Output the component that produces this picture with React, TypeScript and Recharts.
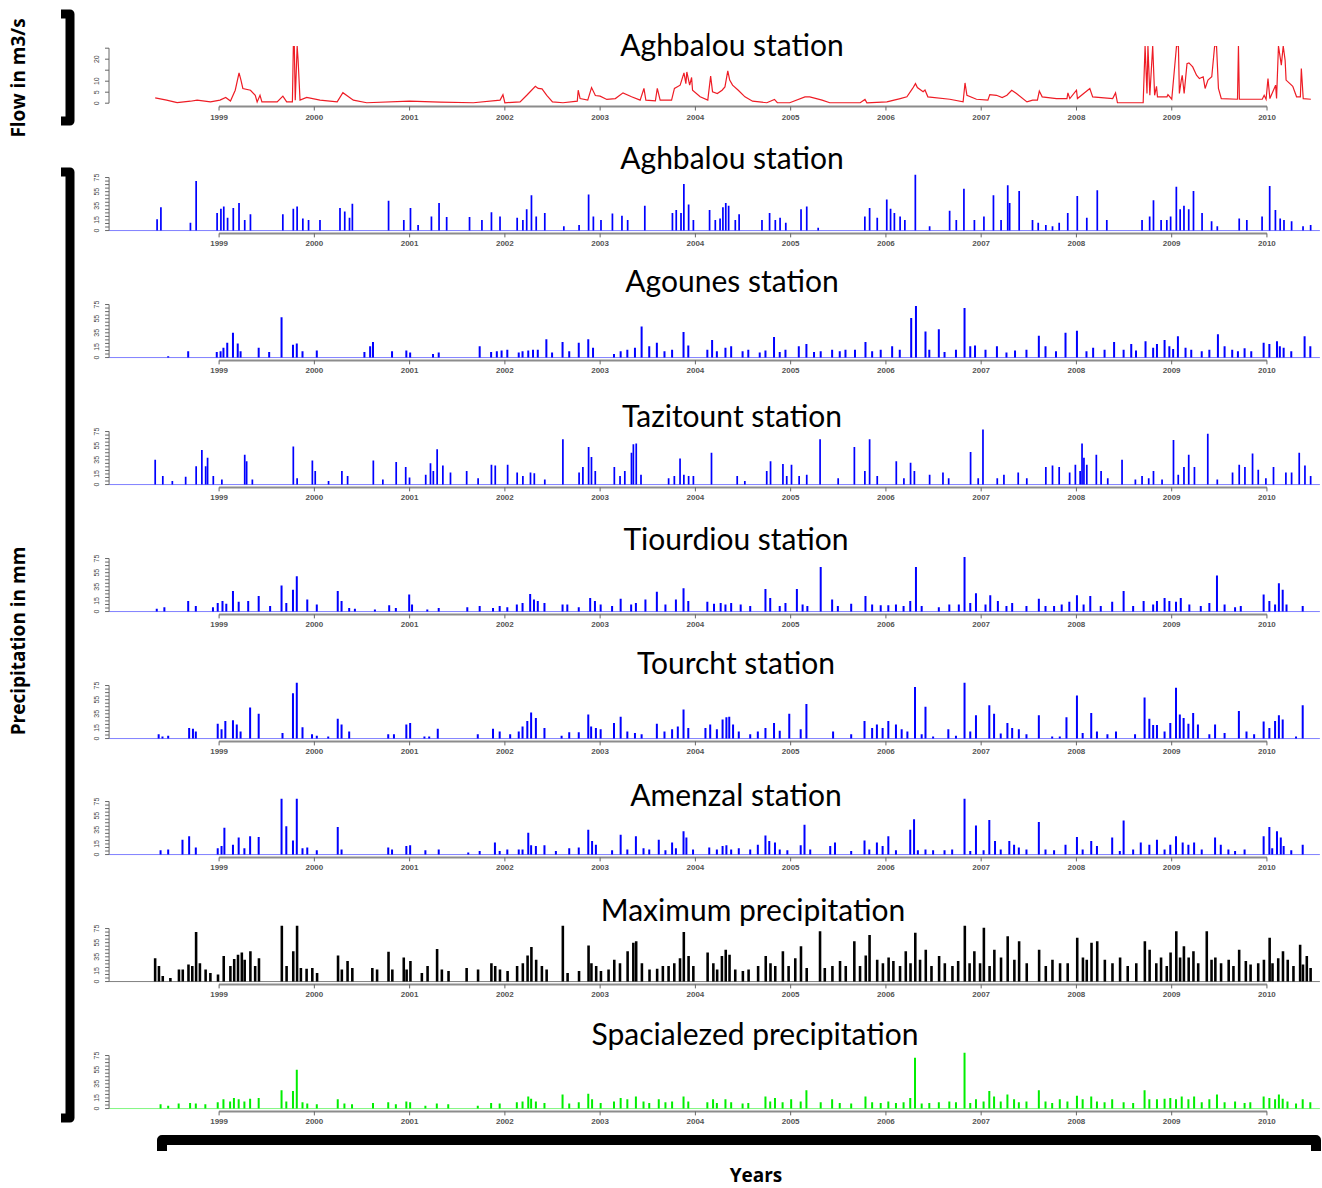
import React from 'react';
import { ComposedChart, LineChart, Line, Bar, XAxis, YAxis, ReferenceLine } from 'recharts';

// shared axis values
const years = [1999, 2000, 2001, 2002, 2003, 2004, 2005, 2006, 2007, 2008, 2009, 2010];
const rainTicks = [0, 5, 10, 15, 20, 25, 30, 35, 40, 45, 50, 55, 60, 65, 70, 75];
const rainLabels = [0, 15, 35, 55, 75];
const flowTicks = [0, 5, 10, 15, 20, 25];
const flowLabels = [0, 5, 10, 20];

// flow at Aghbalou, m3/s  [decimal year, value]
const flowAghbalou: [number, number][] = [
  [1998.33, 2.4], [1998.45, 1.4], [1998.56, 0.3], [1998.70, 0.9], [1998.77, 1.4], [1998.91, 0.6],
  [1999.01, 1.4], [1999.07, 2.6], [1999.12, 1.0], [1999.17, 5.9], [1999.21, 13.8], [1999.23, 10.5],
  [1999.25, 6.7], [1999.33, 5.9], [1999.38, 3.6], [1999.40, 0.6], [1999.43, 3.6], [1999.45, 0.6],
  [1999.61, 0.6], [1999.67, 3.2], [1999.71, 0.6], [1999.77, 0.6], [1999.78, 26], [1999.79, 26],
  [1999.80, 1.4], [1999.82, 26], [1999.83, 19.5], [1999.85, 1.4], [1999.92, 2.6], [2000.06, 1.4],
  [2000.24, 0.6], [2000.30, 4.8], [2000.41, 1.4], [2000.55, 0.2], [2001.00, 0.9], [2001.32, 0.5],
  [2001.67, 0.2], [2001.95, 1.4], [2001.98, 3.9], [2002.00, 0.2], [2002.16, 0.6], [2002.23, 3.6],
  [2002.32, 7.7], [2002.35, 6.7], [2002.39, 6.5], [2002.44, 3.6], [2002.50, 0.6], [2002.61, 0.2],
  [2002.76, 0.9], [2002.77, 5.9], [2002.79, 2.1], [2002.87, 1.4], [2002.91, 7.1], [2002.95, 3.5],
  [2003.00, 3.2], [2003.07, 1.7], [2003.16, 2.1], [2003.24, 4.7], [2003.33, 2.9], [2003.42, 1.4],
  [2003.46, 6.7], [2003.48, 1.4], [2003.58, 1.1], [2003.60, 6.7], [2003.63, 1.4], [2003.75, 1.4],
  [2003.78, 6.7], [2003.84, 8.2], [2003.88, 13.8], [2003.90, 8.9], [2003.91, 14.2], [2003.94, 8.2],
  [2003.96, 11.7], [2003.97, 5.9], [2004.05, 2.9], [2004.13, 1.4], [2004.16, 12.3], [2004.18, 5.2],
  [2004.23, 4.4], [2004.28, 5.9], [2004.31, 7.4], [2004.34, 14.7], [2004.36, 10.5], [2004.39, 8.2],
  [2004.45, 5.9], [2004.52, 2.9], [2004.60, 0.9], [2004.75, 0.2], [2004.83, 1.7], [2004.86, 0.2],
  [2004.99, 0.2], [2005.15, 2.9], [2005.20, 2.9], [2005.33, 1.4], [2005.41, 0.2], [2005.73, 0.2],
  [2005.78, 1.7], [2005.80, 0.2], [2006.01, 0.6], [2006.15, 2.1], [2006.22, 2.9], [2006.28, 6.7],
  [2006.31, 8.9], [2006.33, 7.1], [2006.39, 5.2], [2006.41, 6.0], [2006.44, 2.9], [2006.67, 1.8],
  [2006.81, 0.6], [2006.83, 9.2], [2006.85, 3.6], [2006.95, 1.8], [2007.07, 1.4], [2007.09, 3.9],
  [2007.16, 3.6], [2007.22, 2.6], [2007.27, 3.6], [2007.32, 5.9], [2007.37, 4.4], [2007.48, 0.6],
  [2007.54, 1.4], [2007.59, 1.4], [2007.61, 5.5], [2007.64, 2.9], [2007.79, 2.1], [2007.90, 2.1],
  [2007.91, 4.7], [2007.93, 2.1], [2008.00, 5.9], [2008.01, 2.1], [2008.14, 6.7], [2008.17, 2.9],
  [2008.38, 2.1], [2008.41, 4.7], [2008.43, 0.2], [2008.70, 0.2], [2008.72, 26], [2008.74, 4.4],
  [2008.75, 26], [2008.77, 3.6], [2008.80, 26], [2008.82, 3.6], [2008.84, 7.7], [2008.85, 2.9],
  [2008.95, 2.9], [2008.96, 3.9], [2009.00, 1.8], [2009.05, 26], [2009.07, 26], [2009.08, 4.4],
  [2009.10, 10.5], [2009.11, 12.7], [2009.13, 4.4], [2009.16, 18], [2009.18, 18.3], [2009.22, 16.5],
  [2009.26, 12.7], [2009.29, 11.2], [2009.33, 12], [2009.35, 6.7], [2009.38, 10.5], [2009.42, 12],
  [2009.45, 26], [2009.47, 26], [2009.49, 6.7], [2009.52, 2.1], [2009.69, 1.8], [2009.70, 26],
  [2009.71, 1.8], [2009.95, 1.8], [2009.97, 3.6], [2009.99, 1.8], [2010.01, 11.2], [2010.03, 2.1],
  [2010.09, 8.2], [2010.10, 2.1], [2010.12, 26], [2010.15, 17.3], [2010.17, 26], [2010.19, 19.5],
  [2010.20, 10.5], [2010.24, 8.9], [2010.27, 7.7], [2010.31, 2.9], [2010.35, 2.9], [2010.36, 15.8],
  [2010.38, 2.1], [2010.46, 1.8],
];

// daily rain peaks, mm  [decimal year, value]
const rainAghbalou: [number, number][] = [
  [1998.35, 16], [1998.39, 33], [1998.70, 11], [1998.76, 70], [1998.98, 25], [1999.02, 31], [1999.05, 34],
  [1999.09, 18], [1999.15, 32], [1999.21, 39], [1999.27, 15], [1999.33, 23], [1999.67, 23], [1999.78, 31],
  [1999.82, 34], [1999.88, 17], [1999.94, 15], [2000.06, 15], [2000.27, 32], [2000.32, 27], [2000.37, 18],
  [2000.40, 38], [2000.78, 42], [2000.94, 15], [2001.01, 32], [2001.09, 8], [2001.23, 20], [2001.31, 39],
  [2001.39, 19], [2001.63, 19], [2001.76, 15], [2001.86, 26], [2001.95, 20], [2002.13, 18], [2002.19, 15],
  [2002.23, 30], [2002.28, 50], [2002.33, 20], [2002.42, 25], [2002.62, 6], [2002.78, 8], [2002.88, 51],
  [2002.93, 20], [2003.01, 15], [2003.13, 24], [2003.23, 21], [2003.29, 15], [2003.47, 35], [2003.76, 25],
  [2003.80, 29], [2003.85, 25], [2003.88, 66], [2003.93, 37], [2003.98, 15], [2004.15, 29], [2004.21, 15],
  [2004.26, 17], [2004.29, 33], [2004.32, 39], [2004.35, 35], [2004.42, 15], [2004.46, 23], [2004.70, 15],
  [2004.78, 25], [2004.84, 15], [2004.89, 18], [2004.95, 11], [2005.11, 30], [2005.17, 34], [2005.29, 4],
  [2005.78, 20], [2005.83, 32], [2005.91, 18], [2006.01, 44], [2006.05, 31], [2006.09, 25], [2006.15, 20],
  [2006.20, 15], [2006.31, 79], [2006.46, 6], [2006.67, 28], [2006.74, 15], [2006.82, 59], [2006.93, 15],
  [2007.03, 20], [2007.13, 50], [2007.21, 15], [2007.28, 64], [2007.30, 39], [2007.40, 56], [2007.54, 15],
  [2007.60, 11], [2007.68, 8], [2007.75, 6], [2007.82, 11], [2007.91, 25], [2008.01, 49], [2008.11, 18],
  [2008.22, 57], [2008.32, 15], [2008.69, 15], [2008.77, 20], [2008.81, 43], [2008.89, 15], [2008.95, 15],
  [2008.99, 20], [2009.05, 62], [2009.09, 30], [2009.13, 35], [2009.18, 30], [2009.23, 56], [2009.32, 25],
  [2009.42, 13], [2009.48, 6], [2009.71, 17], [2009.79, 15], [2009.95, 20], [2010.03, 63], [2010.09, 29],
  [2010.14, 17], [2010.18, 15], [2010.26, 13], [2010.38, 6], [2010.46, 8],
];

const rainAgounes: [number, number][] = [
  [1998.47, 2], [1998.68, 9], [1998.98, 8], [1999.02, 9], [1999.05, 14], [1999.09, 21], [1999.15, 35],
  [1999.20, 20], [1999.23, 9], [1999.42, 14], [1999.53, 8], [1999.66, 57], [1999.78, 18], [1999.82, 20],
  [1999.88, 9], [2000.03, 10], [2000.53, 8], [2000.59, 16], [2000.62, 22], [2000.82, 9], [2000.97, 10],
  [2001.01, 7], [2001.25, 5], [2001.31, 7], [2001.74, 16], [2001.86, 8], [2001.92, 9], [2001.97, 10],
  [2002.03, 11], [2002.15, 7], [2002.19, 9], [2002.25, 10], [2002.30, 11], [2002.35, 11], [2002.44, 26],
  [2002.50, 7], [2002.61, 22], [2002.68, 9], [2002.78, 21], [2002.88, 26], [2002.93, 14], [2003.15, 5],
  [2003.22, 9], [2003.29, 11], [2003.37, 14], [2003.44, 44], [2003.52, 16], [2003.60, 21], [2003.68, 9],
  [2003.76, 11], [2003.88, 36], [2003.93, 17], [2004.13, 11], [2004.18, 25], [2004.23, 9], [2004.32, 14],
  [2004.38, 16], [2004.50, 9], [2004.56, 11], [2004.68, 7], [2004.74, 10], [2004.83, 29], [2004.89, 8],
  [2004.95, 11], [2005.09, 16], [2005.17, 19], [2005.25, 8], [2005.32, 9], [2005.44, 11], [2005.52, 9],
  [2005.58, 11], [2005.68, 11], [2005.79, 22], [2005.86, 9], [2005.95, 11], [2006.07, 16], [2006.15, 11],
  [2006.27, 56], [2006.32, 73], [2006.42, 37], [2006.46, 11], [2006.56, 40], [2006.62, 8], [2006.74, 11],
  [2006.83, 70], [2006.89, 16], [2006.94, 17], [2007.05, 11], [2007.17, 16], [2007.27, 7], [2007.36, 10],
  [2007.48, 11], [2007.61, 31], [2007.68, 16], [2007.79, 9], [2007.89, 35], [2008.01, 38], [2008.11, 9],
  [2008.18, 14], [2008.30, 11], [2008.40, 22], [2008.50, 11], [2008.58, 19], [2008.63, 10], [2008.73, 23],
  [2008.81, 14], [2008.85, 19], [2008.93, 25], [2008.98, 16], [2009.02, 12], [2009.07, 30], [2009.15, 14],
  [2009.21, 11], [2009.32, 9], [2009.40, 11], [2009.49, 33], [2009.56, 16], [2009.64, 11], [2009.70, 9],
  [2009.77, 13], [2009.84, 9], [2009.97, 21], [2010.03, 19], [2010.11, 23], [2010.14, 16], [2010.18, 14],
  [2010.26, 9], [2010.40, 30], [2010.46, 16],
];

const rainTazitount: [number, number][] = [
  [1998.33, 35], [1998.41, 12], [1998.51, 5], [1998.65, 11], [1998.76, 26], [1998.82, 49], [1998.86, 26],
  [1998.88, 38], [1998.94, 12], [1999.03, 7], [1999.27, 42], [1999.29, 33], [1999.35, 7], [1999.78, 54],
  [1999.82, 9], [1999.98, 34], [2000.01, 19], [2000.15, 5], [2000.29, 19], [2000.35, 12], [2000.62, 34],
  [2000.72, 7], [2000.86, 32], [2000.96, 25], [2001.00, 10], [2001.17, 14], [2001.22, 30], [2001.25, 19],
  [2001.29, 50], [2001.35, 27], [2001.43, 17], [2001.60, 19], [2001.72, 9], [2001.86, 28], [2001.90, 27],
  [2002.03, 28], [2002.13, 17], [2002.19, 12], [2002.27, 17], [2002.31, 16], [2002.42, 7], [2002.61, 64],
  [2002.78, 17], [2002.82, 25], [2002.88, 53], [2002.91, 39], [2002.95, 19], [2003.15, 25], [2003.21, 12],
  [2003.26, 19], [2003.33, 45], [2003.35, 57], [2003.38, 58], [2003.43, 14], [2003.72, 9], [2003.78, 12],
  [2003.84, 37], [2003.88, 14], [2003.93, 12], [2003.98, 12], [2004.17, 45], [2004.44, 12], [2004.52, 5],
  [2004.75, 19], [2004.79, 33], [2004.92, 29], [2004.96, 12], [2005.01, 28], [2005.09, 12], [2005.17, 14],
  [2005.31, 64], [2005.50, 9], [2005.67, 53], [2005.78, 19], [2005.83, 64], [2005.91, 12], [2006.11, 33],
  [2006.19, 9], [2006.26, 31], [2006.30, 19], [2006.46, 14], [2006.60, 17], [2006.66, 9], [2006.89, 46],
  [2006.97, 9], [2007.02, 78], [2007.17, 9], [2007.24, 14], [2007.39, 17], [2007.48, 9], [2007.68, 25],
  [2007.75, 27], [2007.82, 25], [2007.93, 17], [2007.99, 28], [2008.04, 19], [2008.06, 58], [2008.08, 38],
  [2008.11, 28], [2008.21, 42], [2008.26, 19], [2008.33, 9], [2008.48, 35], [2008.62, 7], [2008.69, 12],
  [2008.76, 9], [2008.81, 19], [2008.90, 7], [2009.02, 63], [2009.07, 14], [2009.13, 25], [2009.18, 42],
  [2009.24, 25], [2009.38, 72], [2009.48, 7], [2009.64, 17], [2009.71, 28], [2009.77, 25], [2009.85, 44],
  [2009.91, 21], [2009.99, 9], [2010.07, 25], [2010.20, 17], [2010.26, 17], [2010.34, 45], [2010.40, 27],
  [2010.46, 12],
];

const rainTiourdiou: [number, number][] = [
  [1998.35, 4], [1998.43, 6], [1998.68, 15], [1998.76, 8], [1998.94, 6], [1998.99, 12], [1999.04, 15],
  [1999.08, 11], [1999.15, 29], [1999.21, 14], [1999.31, 15], [1999.42, 22], [1999.54, 8], [1999.66, 37],
  [1999.71, 12], [1999.78, 31], [1999.82, 50], [1999.93, 17], [2000.03, 10], [2000.25, 29], [2000.29, 15],
  [2000.37, 5], [2000.43, 4], [2000.64, 3], [2000.79, 9], [2000.86, 5], [2001.00, 24], [2001.03, 10],
  [2001.19, 3], [2001.31, 5], [2001.61, 6], [2001.74, 8], [2001.88, 5], [2001.95, 8], [2002.03, 6],
  [2002.13, 10], [2002.19, 12], [2002.27, 25], [2002.31, 17], [2002.35, 15], [2002.42, 12], [2002.61, 10],
  [2002.66, 10], [2002.78, 6], [2002.90, 19], [2002.95, 15], [2003.01, 10], [2003.13, 8], [2003.22, 18],
  [2003.33, 10], [2003.38, 12], [2003.48, 17], [2003.60, 28], [2003.69, 10], [2003.80, 17], [2003.88, 33],
  [2003.93, 15], [2004.13, 14], [2004.20, 11], [2004.27, 12], [2004.32, 10], [2004.38, 12], [2004.48, 10],
  [2004.58, 8], [2004.74, 32], [2004.79, 19], [2004.89, 8], [2004.95, 12], [2005.07, 32], [2005.13, 10],
  [2005.18, 8], [2005.32, 63], [2005.44, 17], [2005.50, 8], [2005.64, 11], [2005.79, 22], [2005.86, 10],
  [2005.95, 9], [2006.03, 9], [2006.11, 10], [2006.19, 8], [2006.26, 15], [2006.32, 63], [2006.38, 8],
  [2006.56, 6], [2006.67, 10], [2006.77, 10], [2006.83, 77], [2006.89, 12], [2006.95, 26], [2007.05, 10],
  [2007.10, 23], [2007.18, 15], [2007.27, 8], [2007.33, 12], [2007.48, 8], [2007.61, 18], [2007.68, 8],
  [2007.77, 8], [2007.85, 10], [2007.93, 14], [2008.01, 23], [2008.08, 10], [2008.15, 22], [2008.26, 8],
  [2008.38, 14], [2008.50, 29], [2008.60, 8], [2008.71, 15], [2008.81, 10], [2008.85, 15], [2008.93, 19],
  [2008.98, 15], [2009.05, 14], [2009.10, 19], [2009.19, 10], [2009.31, 8], [2009.40, 12], [2009.48, 51],
  [2009.56, 10], [2009.67, 6], [2009.73, 8], [2009.97, 24], [2010.03, 15], [2010.09, 10], [2010.13, 40],
  [2010.17, 31], [2010.21, 10], [2010.38, 8],
];

const rainTourcht: [number, number][] = [
  [1998.37, 6], [1998.41, 3], [1998.47, 4], [1998.69, 15], [1998.73, 14], [1998.76, 10], [1998.99, 21],
  [1999.03, 13], [1999.07, 25], [1999.15, 26], [1999.19, 20], [1999.23, 10], [1999.33, 44], [1999.42, 35],
  [1999.67, 8], [1999.78, 64], [1999.82, 79], [1999.88, 16], [1999.98, 6], [2000.03, 4], [2000.15, 3],
  [2000.25, 28], [2000.29, 20], [2000.37, 10], [2000.78, 6], [2000.84, 6], [2000.97, 20], [2001.01, 22],
  [2001.16, 3], [2001.21, 3], [2001.30, 14], [2001.72, 6], [2001.88, 14], [2001.95, 10], [2002.06, 6],
  [2002.15, 10], [2002.19, 17], [2002.24, 25], [2002.28, 37], [2002.33, 29], [2002.42, 15], [2002.60, 4],
  [2002.68, 9], [2002.78, 9], [2002.88, 34], [2002.91, 17], [2002.96, 15], [2003.01, 13], [2003.15, 22],
  [2003.22, 31], [2003.29, 10], [2003.37, 8], [2003.44, 6], [2003.60, 21], [2003.68, 10], [2003.76, 13],
  [2003.82, 17], [2003.88, 41], [2003.93, 15], [2004.11, 15], [2004.16, 20], [2004.23, 13], [2004.29, 27],
  [2004.33, 30], [2004.36, 31], [2004.40, 20], [2004.46, 10], [2004.58, 6], [2004.66, 10], [2004.74, 15],
  [2004.83, 22], [2004.89, 11], [2004.99, 35], [2005.11, 13], [2005.17, 49], [2005.45, 10], [2005.64, 6],
  [2005.78, 25], [2005.86, 15], [2005.91, 20], [2005.97, 15], [2006.03, 25], [2006.11, 20], [2006.17, 13],
  [2006.23, 10], [2006.31, 73], [2006.38, 6], [2006.42, 45], [2006.50, 3], [2006.66, 13], [2006.74, 4],
  [2006.83, 79], [2006.89, 10], [2006.95, 33], [2007.09, 47], [2007.14, 35], [2007.21, 7], [2007.28, 22],
  [2007.33, 15], [2007.40, 13], [2007.48, 6], [2007.61, 33], [2007.75, 3], [2007.83, 3], [2007.90, 30],
  [2008.01, 61], [2008.07, 8], [2008.16, 36], [2008.22, 10], [2008.33, 6], [2008.42, 10], [2008.62, 6],
  [2008.72, 58], [2008.77, 28], [2008.81, 19], [2008.85, 19], [2008.93, 10], [2008.99, 22], [2009.05, 72],
  [2009.09, 34], [2009.13, 29], [2009.18, 21], [2009.23, 36], [2009.28, 20], [2009.40, 6], [2009.46, 20],
  [2009.56, 8], [2009.71, 39], [2009.79, 10], [2009.87, 6], [2009.97, 24], [2010.03, 15], [2010.09, 25],
  [2010.13, 33], [2010.17, 27], [2010.31, 3], [2010.38, 47],
];

const rainAmenzal: [number, number][] = [
  [1998.39, 6], [1998.47, 7], [1998.62, 21], [1998.69, 26], [1998.76, 10], [1998.99, 9], [1999.03, 12],
  [1999.06, 38], [1999.15, 14], [1999.21, 24], [1999.27, 9], [1999.33, 26], [1999.42, 25], [1999.66, 79],
  [1999.71, 40], [1999.78, 20], [1999.82, 79], [1999.88, 9], [1999.93, 10], [2000.03, 6], [2000.25, 39],
  [2000.29, 7], [2000.78, 10], [2000.82, 7], [2000.97, 12], [2001.01, 13], [2001.17, 6], [2001.31, 7],
  [2001.62, 3], [2001.74, 5], [2001.90, 17], [2001.95, 5], [2002.03, 7], [2002.15, 7], [2002.19, 7],
  [2002.25, 31], [2002.28, 13], [2002.33, 12], [2002.42, 13], [2002.54, 5], [2002.68, 9], [2002.78, 10],
  [2002.88, 35], [2002.92, 19], [2002.96, 14], [2003.13, 6], [2003.22, 28], [2003.29, 7], [2003.38, 26],
  [2003.46, 9], [2003.52, 7], [2003.62, 21], [2003.69, 6], [2003.76, 17], [2003.80, 9], [2003.88, 33],
  [2003.91, 24], [2003.98, 7], [2004.15, 10], [2004.23, 7], [2004.29, 12], [2004.33, 13], [2004.38, 7],
  [2004.46, 9], [2004.58, 7], [2004.66, 14], [2004.74, 27], [2004.78, 19], [2004.84, 17], [2004.89, 7],
  [2004.97, 6], [2005.11, 13], [2005.15, 42], [2005.21, 7], [2005.42, 12], [2005.47, 17], [2005.64, 5],
  [2005.78, 20], [2005.83, 7], [2005.91, 17], [2005.97, 12], [2006.03, 26], [2006.11, 6], [2006.26, 35],
  [2006.30, 50], [2006.34, 6], [2006.42, 7], [2006.50, 6], [2006.62, 6], [2006.70, 7], [2006.83, 79],
  [2006.89, 5], [2006.95, 41], [2007.03, 6], [2007.09, 49], [2007.15, 19], [2007.21, 7], [2007.30, 19],
  [2007.35, 14], [2007.40, 10], [2007.48, 7], [2007.61, 46], [2007.68, 7], [2007.77, 6], [2007.89, 14],
  [2008.01, 25], [2008.07, 7], [2008.16, 19], [2008.22, 12], [2008.38, 24], [2008.46, 5], [2008.50, 48],
  [2008.60, 7], [2008.68, 17], [2008.77, 14], [2008.85, 21], [2008.93, 7], [2008.99, 14], [2009.05, 26],
  [2009.12, 17], [2009.18, 14], [2009.24, 17], [2009.32, 7], [2009.46, 24], [2009.52, 14], [2009.60, 7],
  [2009.67, 5], [2009.77, 7], [2009.97, 26], [2010.03, 39], [2010.06, 9], [2010.11, 33], [2010.15, 24],
  [2010.18, 12], [2010.26, 6], [2010.38, 14],
];

const rainMaximum: [number, number][] = [
  [1998.33, 33], [1998.37, 22], [1998.41, 8], [1998.49, 5], [1998.58, 17], [1998.62, 17], [1998.68, 24],
  [1998.72, 22], [1998.76, 70], [1998.80, 26], [1998.86, 17], [1998.91, 12], [1998.99, 10], [1999.05, 36],
  [1999.12, 22], [1999.16, 32], [1999.20, 38], [1999.24, 41], [1999.27, 31], [1999.33, 43], [1999.38, 22],
  [1999.42, 33], [1999.66, 79], [1999.71, 22], [1999.78, 43], [1999.82, 79], [1999.86, 19], [1999.92, 18],
  [1999.98, 19], [2000.03, 12], [2000.25, 37], [2000.29, 17], [2000.35, 29], [2000.40, 19], [2000.61, 19],
  [2000.66, 17], [2000.78, 42], [2000.82, 17], [2000.94, 34], [2000.97, 17], [2001.01, 29], [2001.13, 12],
  [2001.19, 22], [2001.29, 46], [2001.34, 17], [2001.41, 15], [2001.60, 19], [2001.72, 17], [2001.86, 26],
  [2001.90, 22], [2001.95, 17], [2002.03, 15], [2002.13, 22], [2002.19, 26], [2002.24, 37], [2002.28, 49],
  [2002.33, 31], [2002.39, 22], [2002.44, 17], [2002.61, 79], [2002.66, 12], [2002.78, 15], [2002.88, 51],
  [2002.91, 26], [2002.96, 22], [2003.01, 15], [2003.09, 17], [2003.15, 31], [2003.21, 26], [2003.29, 43],
  [2003.35, 55], [2003.38, 57], [2003.44, 26], [2003.52, 17], [2003.60, 18], [2003.66, 22], [2003.72, 22],
  [2003.78, 26], [2003.84, 33], [2003.88, 70], [2003.93, 36], [2003.98, 22], [2004.13, 41], [2004.19, 26],
  [2004.23, 17], [2004.28, 36], [2004.32, 45], [2004.36, 38], [2004.42, 17], [2004.50, 15], [2004.56, 17],
  [2004.66, 22], [2004.74, 36], [2004.79, 26], [2004.84, 22], [2004.92, 43], [2004.98, 22], [2005.05, 33],
  [2005.11, 50], [2005.17, 19], [2005.31, 71], [2005.36, 19], [2005.44, 22], [2005.52, 29], [2005.58, 22],
  [2005.67, 57], [2005.73, 22], [2005.79, 37], [2005.83, 66], [2005.91, 31], [2005.97, 26], [2006.03, 34],
  [2006.08, 29], [2006.15, 22], [2006.21, 43], [2006.26, 26], [2006.31, 69], [2006.36, 31], [2006.42, 45],
  [2006.48, 22], [2006.56, 36], [2006.62, 26], [2006.70, 22], [2006.76, 29], [2006.83, 79], [2006.88, 26],
  [2006.93, 43], [2006.99, 26], [2007.03, 76], [2007.09, 22], [2007.14, 45], [2007.21, 34], [2007.28, 64],
  [2007.35, 31], [2007.40, 57], [2007.48, 26], [2007.61, 45], [2007.68, 22], [2007.75, 31], [2007.83, 26],
  [2007.91, 26], [2008.01, 62], [2008.07, 34], [2008.11, 31], [2008.16, 55], [2008.22, 57], [2008.30, 31],
  [2008.38, 26], [2008.46, 34], [2008.54, 22], [2008.63, 26], [2008.72, 57], [2008.77, 45], [2008.84, 26],
  [2008.89, 34], [2008.95, 22], [2008.99, 41], [2009.05, 71], [2009.09, 34], [2009.13, 50], [2009.18, 34],
  [2009.23, 43], [2009.28, 26], [2009.37, 71], [2009.42, 31], [2009.46, 34], [2009.52, 26], [2009.60, 31],
  [2009.65, 22], [2009.71, 45], [2009.78, 29], [2009.83, 24], [2009.91, 26], [2009.97, 31], [2010.03, 62],
  [2010.06, 26], [2010.12, 33], [2010.17, 43], [2010.22, 31], [2010.28, 22], [2010.35, 52], [2010.38, 24],
  [2010.42, 36], [2010.46, 19],
];

const rainSpatial: [number, number][] = [
  [1998.39, 6], [1998.47, 4], [1998.58, 7], [1998.70, 8], [1998.76, 7], [1998.86, 6], [1998.99, 9],
  [1999.05, 13], [1999.12, 10], [1999.16, 15], [1999.21, 13], [1999.27, 10], [1999.33, 14], [1999.42, 15],
  [1999.66, 26], [1999.71, 10], [1999.78, 25], [1999.82, 55], [1999.88, 9], [1999.93, 7], [2000.03, 6],
  [2000.25, 13], [2000.32, 7], [2000.40, 6], [2000.62, 8], [2000.78, 9], [2000.86, 6], [2000.97, 10],
  [2001.01, 9], [2001.17, 4], [2001.29, 7], [2001.41, 6], [2001.72, 4], [2001.86, 8], [2001.95, 7],
  [2002.13, 9], [2002.19, 10], [2002.25, 17], [2002.28, 14], [2002.33, 10], [2002.42, 8], [2002.61, 20],
  [2002.68, 7], [2002.78, 9], [2002.88, 21], [2002.92, 13], [2003.01, 8], [2003.15, 10], [2003.22, 15],
  [2003.29, 13], [2003.38, 17], [2003.46, 10], [2003.52, 8], [2003.62, 13], [2003.69, 9], [2003.76, 10],
  [2003.88, 17], [2003.93, 10], [2004.13, 9], [2004.19, 13], [2004.23, 8], [2004.32, 13], [2004.38, 9],
  [2004.50, 7], [2004.56, 8], [2004.74, 17], [2004.79, 10], [2004.84, 15], [2004.92, 9], [2005.01, 13],
  [2005.11, 10], [2005.17, 26], [2005.32, 9], [2005.44, 13], [2005.52, 8], [2005.64, 7], [2005.79, 17],
  [2005.86, 9], [2005.95, 8], [2006.03, 10], [2006.11, 8], [2006.19, 9], [2006.26, 15], [2006.31, 72],
  [2006.38, 7], [2006.46, 8], [2006.56, 9], [2006.67, 10], [2006.74, 9], [2006.83, 79], [2006.89, 8],
  [2006.95, 13], [2007.03, 10], [2007.09, 25], [2007.14, 17], [2007.21, 10], [2007.28, 20], [2007.35, 13],
  [2007.40, 9], [2007.48, 10], [2007.61, 26], [2007.68, 10], [2007.75, 8], [2007.83, 13], [2007.91, 10],
  [2008.01, 18], [2008.07, 13], [2008.16, 17], [2008.22, 10], [2008.30, 9], [2008.38, 13], [2008.50, 9],
  [2008.60, 8], [2008.72, 26], [2008.77, 13], [2008.85, 13], [2008.93, 14], [2008.99, 15], [2009.05, 13],
  [2009.11, 17], [2009.18, 13], [2009.24, 17], [2009.32, 9], [2009.40, 13], [2009.48, 20], [2009.56, 9],
  [2009.67, 10], [2009.77, 8], [2009.83, 9], [2009.97, 17], [2010.03, 15], [2010.09, 13], [2010.13, 20],
  [2010.17, 14], [2010.22, 10], [2010.31, 7], [2010.38, 13], [2010.46, 9],
];

const X_DOMAIN: [number, number] = [1997.845, 2010.556];
const PLOT_LEFT = 109;
const CHART_W = 1322;
const axisFont = 'Liberation Sans, Arial, sans-serif';

function YTick(props: any) {
  const { x, y, payload, labels } = props;
  if (!labels.includes(payload.value)) return <g />;
  return (
    <text
      x={x}
      y={y}
      transform={`rotate(-90 ${x} ${y})`}
      textAnchor="middle"
      fontSize={7}
      fontFamily={axisFont}
      fill="#444"
    >
      {payload.value}
    </text>
  );
}

function XTick(props: any) {
  const { x, y, payload } = props;
  return (
    <text x={x} y={y + 7} textAnchor="middle" fontSize={8} fontWeight="bold" fontFamily={axisFont} fill="#555">
      {payload.value}
    </text>
  );
}

function RainPanel({ data, color, base, barSize }: { data: [number, number][]; color: string; base: number; barSize: number }) {
  const rows = data.map(([t, v]) => ({ t, v }));
  const pxPerMm = 0.707;
  const plotH = 84 * pxPerMm;
  const top = base - 80 * pxPerMm - 2;
  return (
    <div style={{ position: 'absolute', left: 0, top }}>
      <ComposedChart width={CHART_W} height={plotH + 2 + 22} data={rows} margin={{ top: 2, right: 2, bottom: 0, left: 0 }}>
        <XAxis
          dataKey="t"
          type="number"
          domain={X_DOMAIN}
          allowDataOverflow
          ticks={years}
          interval={0}
          axisLine={false}
          tickLine={{ stroke: '#666' }}
          tickSize={4}
          height={22}
          tick={<XTick />}
        />
        <YAxis
          type="number"
          domain={[-4, 80]}
          allowDataOverflow
          ticks={rainTicks}
          interval={0}
          width={PLOT_LEFT}
          axisLine={false}
          tickLine={{ stroke: '#666' }}
          tickSize={4}
          tickMargin={6}
          tick={<YTick labels={rainLabels} />}
        />
        <ReferenceLine y={0} stroke={color} strokeOpacity={0.5} strokeWidth={1} />
        <ReferenceLine segment={[{ x: 1999, y: -4 }, { x: 2010, y: -4 }]} stroke="#8c8c8c" strokeWidth={2} />
        <ReferenceLine segment={[{ x: X_DOMAIN[0], y: 0 }, { x: X_DOMAIN[0], y: 75 }]} stroke="#666" strokeWidth={1} />
        <Bar dataKey="v" fill={color} barSize={barSize} isAnimationActive={false} />
      </ComposedChart>
    </div>
  );
}

function FlowPanel() {
  const rows = flowAghbalou.map(([t, v]) => ({ t, v }));
  const pxPerUnit = 2.2;
  const plotH = 27.5 * pxPerUnit;
  const top = 103 - 26 * pxPerUnit - 2;
  return (
    <div style={{ position: 'absolute', left: 0, top }}>
      <LineChart width={CHART_W} height={plotH + 2 + 22} data={rows} margin={{ top: 2, right: 2, bottom: 0, left: 0 }}>
        <XAxis
          dataKey="t"
          type="number"
          domain={X_DOMAIN}
          allowDataOverflow
          ticks={years}
          interval={0}
          axisLine={false}
          tickLine={{ stroke: '#666' }}
          tickSize={4}
          height={22}
          tick={<XTick />}
        />
        <YAxis
          type="number"
          domain={[-1.5, 26]}
          allowDataOverflow
          ticks={flowTicks}
          interval={0}
          width={PLOT_LEFT}
          axisLine={false}
          tickLine={{ stroke: '#666' }}
          tickSize={4}
          tickMargin={6}
          tick={<YTick labels={flowLabels} />}
        />
        <ReferenceLine segment={[{ x: 1999, y: -1.5 }, { x: 2010, y: -1.5 }]} stroke="#8c8c8c" strokeWidth={2} />
        <ReferenceLine segment={[{ x: X_DOMAIN[0], y: 0 }, { x: X_DOMAIN[0], y: 25 }]} stroke="#666" strokeWidth={1} />
        <Line dataKey="v" type="linear" stroke="#ee1c25" strokeWidth={1.2} dot={false} isAnimationActive={false} />
      </LineChart>
    </div>
  );
}

const titleStyle = (cx: number, cy: number): React.CSSProperties => ({
  position: 'absolute',
  left: cx - 250,
  width: 500,
  top: cy - 18,
  textAlign: 'center',
  fontFamily: 'Lato, sans-serif',
  fontSize: 30,
  lineHeight: '36px',
  color: '#000',
  whiteSpace: 'nowrap',
});

const panels = [
  { title: 'Aghbalou station', data: rainAghbalou, base: 231, titleX: 732, titleY: 157, color: '#0000ff', bar: 2 },
  { title: 'Agounes station', data: rainAgounes, base: 358, titleX: 732, titleY: 280, color: '#0000ff', bar: 2 },
  { title: 'Tazitount station', data: rainTazitount, base: 485, titleX: 732, titleY: 415, color: '#0000ff', bar: 2 },
  { title: 'Tiourdiou station', data: rainTiourdiou, base: 612, titleX: 736, titleY: 538, color: '#0000ff', bar: 2 },
  { title: 'Tourcht station', data: rainTourcht, base: 739, titleX: 736, titleY: 662, color: '#0000ff', bar: 2 },
  { title: 'Amenzal station', data: rainAmenzal, base: 855, titleX: 736, titleY: 794, color: '#0000ff', bar: 2 },
  { title: 'Maximum precipitation', data: rainMaximum, base: 982, titleX: 753, titleY: 909, color: '#000000', bar: 3 },
  { title: 'Spacialezed precipitation', data: rainSpatial, base: 1109, titleX: 755, titleY: 1033, color: '#00ee00', bar: 2 },
];

export default function App() {
  return (
    <div style={{ position: 'absolute', left: 0, top: 0, width: 1322, height: 1188, background: '#fff', overflow: 'hidden' }}>
      <FlowPanel />
      <div style={titleStyle(732, 44)}>Aghbalou station</div>
      {panels.map((p) => (
        <React.Fragment key={p.title}>
          <RainPanel data={p.data} color={p.color} base={p.base} barSize={p.bar} />
          <div style={titleStyle(p.titleX, p.titleY)}>{p.title}</div>
        </React.Fragment>
      ))}
      <svg width={1322} height={1188} style={{ position: 'absolute', left: 0, top: 0, pointerEvents: 'none' }}>
        <polyline points="61,14 70,14 70,121 61,121" fill="none" stroke="#000" strokeWidth={9} strokeLinejoin="round" />
        <polyline points="61,172 70,172 70,1118 61,1118" fill="none" stroke="#000" strokeWidth={9} strokeLinejoin="round" />
        <polyline points="162,1151 162,1140 1316,1140 1316,1151" fill="none" stroke="#000" strokeWidth={10} strokeLinejoin="round" />
        <text
          x={18}
          y={78}
          transform="rotate(-90 18 78)"
          textAnchor="middle"
          dominantBaseline="central"
          fontFamily="Open Sans, sans-serif"
          fontWeight="bold"
          fontSize={19}
        >
          Flow in m3/s
        </text>
        <text
          x={18}
          y={641}
          transform="rotate(-90 18 641)"
          textAnchor="middle"
          dominantBaseline="central"
          fontFamily="Open Sans, sans-serif"
          fontWeight="bold"
          fontSize={19}
        >
          Precipitation in mm
        </text>
        <text x={756} y={1175} textAnchor="middle" dominantBaseline="central" fontFamily="Open Sans, sans-serif" fontWeight="bold" fontSize={19}>
          Years
        </text>
      </svg>
    </div>
  );
}
